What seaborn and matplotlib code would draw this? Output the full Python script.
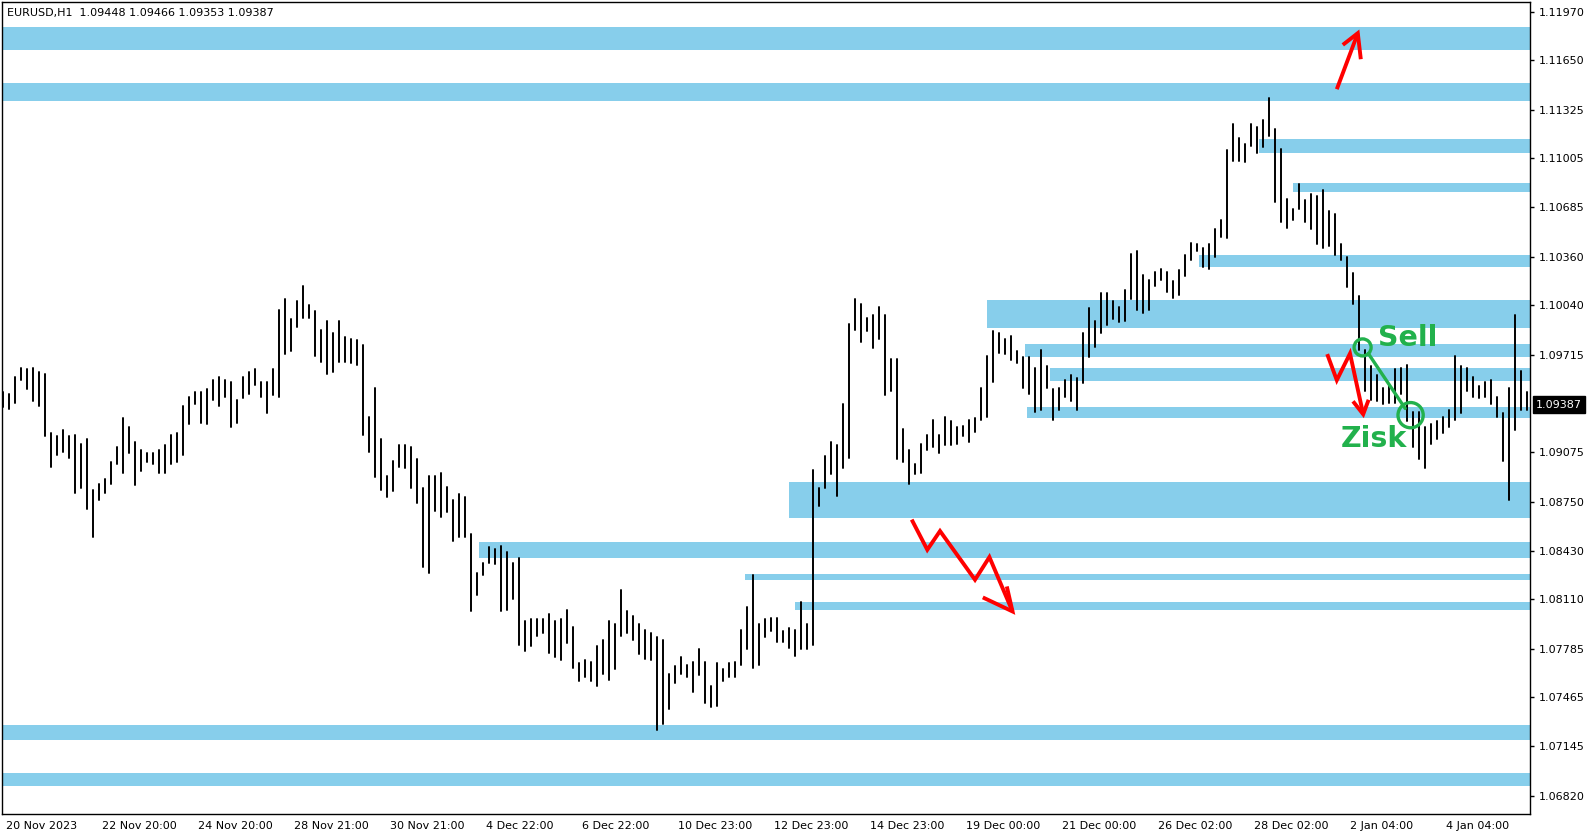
import numpy as np
import pandas as pd
import matplotlib
matplotlib.use("Agg")
import matplotlib.pyplot as plt
import matplotlib.transforms as mtransforms
import seaborn as sns

# ---- data (EURUSD H1, one entry = 3 hourly bars) ----
symbol = "EURUSD,H1"
last_ohlc = ["1.09448", "1.09466", "1.09353", "1.09387"]
last_price = 1.09387

# bar highs / lows in 1/10000 of a price unit
highs = [10947, 10946, 10957, 10963, 10962, 10963, 10960, 10959, 10920, 10918,
         10922, 10918, 10919, 10913, 10916, 10883, 10887, 10890, 10901, 10911,
         10930, 10924, 10914, 10909, 10907, 10907, 10909, 10912, 10919, 10920,
         10938, 10944, 10947, 10947, 10949, 10955, 10957, 10955, 10954, 10942,
         10957, 10960, 10962, 10954, 10954, 10962, 11001, 11008, 10995, 11007,
         11017, 11004, 11000, 10988, 10994, 10986, 10994, 10983, 10982, 10981,
         10978, 10931, 10950, 10916, 10892, 10902, 10912, 10912, 10911, 10903,
         10884, 10892, 10892, 10894, 10885, 10876, 10880, 10878, 10854, 10828,
         10835, 10845, 10844, 10846, 10842, 10835, 10838, 10797, 10798, 10798,
         10798, 10801, 10797, 10798, 10804, 10793, 10769, 10771, 10770, 10780,
         10784, 10797, 10795, 10817, 10803, 10800, 10795, 10791, 10789, 10786,
         10784, 10762, 10767, 10773, 10768, 10770, 10778, 10770, 10754, 10769,
         10765, 10769, 10770, 10791, 10806, 10827, 10795, 10798, 10799, 10799,
         10790, 10792, 10791, 10809, 10795, 10896, 10884, 10905, 10914, 10912,
         10939, 10992, 11008, 11005, 10996, 10998, 11003, 10998, 10969, 10969,
         10923, 10909, 10900, 10913, 10919, 10929, 10919, 10931, 10928, 10924,
         10925, 10929, 10930, 10950, 10971, 10987, 10986, 10982, 10984, 10974,
         10970, 10970, 10963, 10975, 10964, 10949, 10950, 10955, 10958, 10956,
         10986, 11002, 10994, 11012, 11012, 11007, 11003, 11014, 11038, 11040,
         11024, 11021, 11026, 11028, 11026, 11020, 11027, 11037, 11045, 11044,
         11042, 11044, 11054, 11060, 11106, 11123, 11114, 11110, 11123, 11121,
         11126, 11140, 11120, 11107, 11074, 11067, 11084, 11073, 11077, 11076,
         11080, 11066, 11064, 11044, 11036, 11025, 11010, 10975, 10964, 10958,
         10950, 10952, 10962, 10963, 10965, 10934, 10934, 10924, 10926, 10928,
         10931, 10935, 10971, 10964, 10963, 10957, 10951, 10954, 10955, 10944,
         10933, 10950, 10998, 10961, 10947]

lows = [10937, 10936, 10940, 10955, 10949, 10941, 10938, 10918, 10898, 10906,
        10908, 10904, 10881, 10884, 10870, 10852, 10876, 10881, 10887, 10900,
        10894, 10907, 10886, 10895, 10901, 10900, 10894, 10894, 10900, 10901,
        10906, 10926, 10939, 10927, 10926, 10942, 10938, 10944, 10924, 10927,
        10943, 10946, 10952, 10944, 10933, 10945, 10944, 10972, 10974, 10990,
        10996, 10996, 10971, 10967, 10959, 10960, 10967, 10967, 10966, 10965,
        10919, 10908, 10891, 10883, 10878, 10882, 10898, 10897, 10884, 10874,
        10832, 10828, 10869, 10865, 10868, 10849, 10852, 10852, 10803, 10814,
        10827, 10835, 10834, 10803, 10804, 10811, 10781, 10777, 10780, 10787,
        10789, 10776, 10773, 10771, 10782, 10766, 10757, 10760, 10757, 10754,
        10762, 10758, 10765, 10787, 10789, 10784, 10775, 10772, 10771, 10725,
        10729, 10739, 10756, 10762, 10760, 10750, 10761, 10743, 10740, 10741,
        10757, 10760, 10760, 10768, 10778, 10766, 10768, 10786, 10790, 10783,
        10783, 10779, 10774, 10778, 10778, 10781, 10872, 10884, 10893, 10879,
        10897, 10904, 10988, 10980, 10987, 10976, 10982, 10945, 10948, 10903,
        10901, 10887, 10893, 10894, 10909, 10911, 10907, 10912, 10912, 10913,
        10918, 10914, 10921, 10929, 10931, 10954, 10973, 10972, 10968, 10966,
        10950, 10946, 10934, 10935, 10950, 10929, 10935, 10944, 10941, 10935,
        10953, 10970, 10977, 10986, 10991, 10995, 10993, 10994, 11008, 11001,
        10999, 11001, 11017, 11021, 11013, 11009, 11011, 11023, 11034, 11040,
        11029, 11028, 11036, 11049, 11048, 11099, 11099, 11098, 11109, 11104,
        11108, 11115, 11072, 11059, 11055, 11060, 11067, 11059, 11054, 11044,
        11042, 11043, 11037, 11034, 11016, 11005, 10975, 10948, 10942, 10941,
        10939, 10940, 10940, 10946, 10928, 10911, 10903, 10897, 10913, 10916,
        10920, 10924, 10929, 10933, 10948, 10944, 10943, 10944, 10939, 10931,
        10902, 10876, 10922, 10935, 10935]

date_labels = ["20 Nov 2023", "22 Nov 20:00", "24 Nov 20:00", "28 Nov 21:00",
               "30 Nov 21:00", "4 Dec 22:00", "6 Dec 22:00", "10 Dec 23:00",
               "12 Dec 23:00", "14 Dec 23:00", "19 Dec 00:00", "21 Dec 00:00",
               "26 Dec 02:00", "28 Dec 02:00", "2 Jan 04:00", "4 Jan 04:00"]
bars_per_label = 16

price_ticks = [1.11970, 1.11650, 1.11325, 1.11005, 1.10685, 1.10360, 1.10040,
               1.09715, 1.09075, 1.08750, 1.08430, 1.08110, 1.07785, 1.07465,
               1.07145, 1.06820]

# supply / demand zones: first bar, lower and upper price
zone_start = [0, 0, 209.4, 215, 199.3, 164, 170.3, 174.5, 170.6, 131, 79.3,
              123.7, 132, 0, 0]
zone_low = [1.11715, 1.11382, 1.11038, 1.10786, 1.10294, 1.09890, 1.09704,
            1.09546, 1.09300, 1.08644, 1.08380, 1.08234, 1.08037, 1.07188,
            1.06882]
zone_high = [1.11867, 1.11498, 1.11130, 1.10845, 1.10370, 1.10076, 1.09786,
             1.09628, 1.09374, 1.08880, 1.08487, 1.08276, 1.08093, 1.07287,
             1.06967]

# hand drawn marks (bar, price)
up_arrow_x = [222.3, 225.8]
up_arrow_y = [1.11460, 1.11828]
up_head_x = [223.3, 225.8, 226.3]
up_head_y = [1.11751, 1.11828, 1.11657]

zig_x = [151.45, 154.05, 156.17, 162.0, 164.4, 168.25]
zig_y = [1.08633, 1.08435, 1.08558, 1.08238, 1.08387, 1.08030]
zig_head_x = [163.3, 168.25, 167.3]
zig_head_y = [1.08122, 1.08030, 1.08194]

sell_arrow_x = [220.7, 222.3, 224.5, 226.7]
sell_arrow_y = [1.09720, 1.09549, 1.09724, 1.09325]
sell_head_x = [225.0, 226.7, 227.6]
sell_head_y = [1.09410, 1.09325, 1.09420]

trade_x = [226.6, 234.6]
trade_y = [1.09764, 1.09319]
trade_size = [150, 330]
trade_line_x = [227.55, 233.7]
trade_line_y = [1.09724, 1.09363]

# ---- figure ----
sns.set_style("white")
plt.rcParams["font.family"] = ["DejaVu Sans"]

W, H, DPI = 1594, 838, 100
fig = plt.figure(figsize=(W / DPI, H / DPI), dpi=DPI)
ax = fig.add_axes([2 / W, 24 / H, 1528 / W, 812 / H])

x_max = 254.5
ax.set_xlim(-0.17, x_max)
ax.set_ylim(1.066995, 1.120327)

zone_color = "#87CEEB"
for x0, lo, hi in zip(zone_start, zone_low, zone_high):
    ax.fill_between([x0, x_max + 5], lo, hi, color=zone_color, lw=0, zorder=1)

n = len(highs)
bars = pd.DataFrame({
    "bar": np.repeat(np.arange(n), 2),
    "price": np.ravel(np.column_stack([lows, highs])) / 10000.0,
})
sns.lineplot(data=bars, x="bar", y="price", units="bar", estimator=None,
             sort=False, color="black", lw=1.4, ax=ax, zorder=3)

red_kw = dict(color="red", lw=2.8, solid_capstyle="butt", solid_joinstyle="miter", zorder=5)
ax.plot(up_arrow_x, up_arrow_y, **red_kw)
ax.plot(up_head_x, up_head_y, **red_kw)
ax.plot(zig_x, zig_y, **red_kw)
ax.plot(zig_head_x, zig_head_y, **red_kw)
ax.plot(sell_arrow_x, sell_arrow_y, **red_kw)
ax.plot(sell_head_x, sell_head_y, **red_kw)

green = "#22B14C"
ax.plot(trade_line_x, trade_line_y, color=green, lw=2.4, zorder=6)
sns.scatterplot(x=trade_x, y=trade_y, size=trade_size, sizes=(150, 330),
                marker="o", facecolors="none", edgecolor=green, linewidth=2.4,
                legend=False, ax=ax, zorder=6)
ax.text(229.2, 1.09772, "Sell", color=green, fontsize=20.5, fontweight="bold",
        ha="left", va="baseline", zorder=7)
ax.text(222.9, 1.09108, "Zisk", color=green, fontsize=20.5, fontweight="bold",
        ha="left", va="baseline", zorder=7)

# axes look of the terminal
ax.set_xlabel("")
ax.set_ylabel("")
for sp in ax.spines.values():
    sp.set_visible(True)
    sp.set_color("black")
    sp.set_linewidth(1.0)

ax.yaxis.tick_right()
ax.set_yticks(price_ticks)
ax.set_yticklabels([f"{p:.5f}" for p in price_ticks])
ax.tick_params(axis="y", direction="out", length=3, width=1, pad=3,
               labelsize=8, colors="black")

ax.set_xticks(np.arange(len(date_labels)) * bars_per_label)
ax.set_xticklabels(date_labels)
ax.tick_params(axis="x", direction="out", length=3, width=1, pad=2,
               labelsize=8, colors="black")
shift = mtransforms.ScaledTranslation(3 / DPI, 0, fig.dpi_scale_trans)
for lab in ax.get_xticklabels():
    lab.set_horizontalalignment("left")
    lab.set_transform(lab.get_transform() + shift)

ax.text(0.0033, 0.9865, symbol + "  " + " ".join(last_ohlc),
        transform=ax.transAxes, ha="left", va="center", fontsize=8,
        color="black", zorder=8)

tag_tr = mtransforms.blended_transform_factory(ax.transAxes, ax.transData)
tag_tr = tag_tr + mtransforms.ScaledTranslation(6 / DPI, 0, fig.dpi_scale_trans)
ax.text(1.0, last_price, f"{last_price:.5f}", transform=tag_tr, ha="left",
        va="center", fontsize=8, color="white", clip_on=False,
        bbox=dict(boxstyle="square,pad=0.3", fc="black", ec="black"))

fig.savefig("out.png", dpi=DPI)
